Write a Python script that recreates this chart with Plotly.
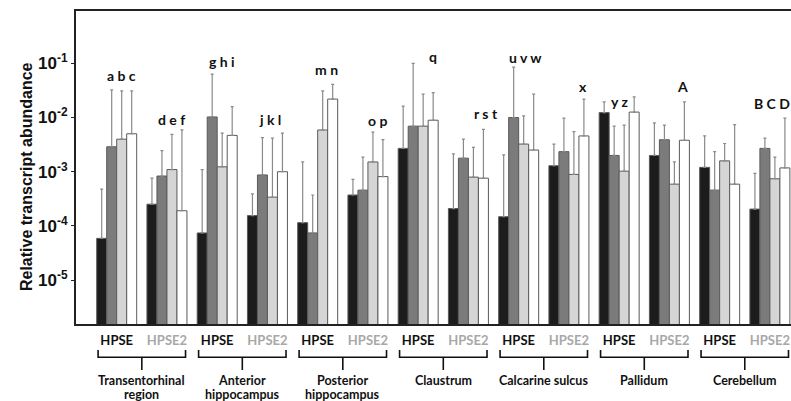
import plotly.graph_objects as go
import numpy as np

# 14 groups: (region, gene) pairs
regions = [["Transentorhinal", "region"], ["Anterior", "hippocampus"], ["Posterior", "hippocampus"],
           ["Claustrum"], ["Calcarine sulcus"], ["Pallidum"], ["Cerebellum"]]
genes = ["HPSE", "HPSE2"] * 7

# log10 of bar heights, four series (black, dark grey, light grey, white)
s1_log = [-4.23, -3.60, -4.13, -3.81, -3.94, -3.43, -2.57, -3.68, -3.83, -2.89, -1.91, -2.70, -2.92, -3.69]
s2_log = [-2.54, -3.08, -1.99, -3.06, -4.13, -3.34, -2.16, -2.75, -2.00, -2.63, -2.70, -2.41, -3.34, -2.57]
s3_log = [-2.40, -2.96, -2.91, -3.47, -2.23, -2.82, -2.16, -3.10, -2.49, -3.05, -2.99, -3.23, -2.80, -3.13]
s4_log = [-2.30, -3.72, -2.33, -3.00, -1.66, -3.09, -2.05, -3.12, -2.60, -2.34, -1.90, -2.42, -3.23, -2.93]

# log10 of error bar tops
e1_log = [-3.32, -3.12, -2.96, -3.41, -2.82, -3.14, -1.79, -2.67, -2.69, -2.49, -1.71, -2.10, -2.34, -3.03]
e2_log = [-1.49, -2.61, -1.20, -2.37, -3.43, -2.73, -1.00, -2.40, -1.07, -2.01, -2.16, -2.14, -2.63, -2.38]
e3_log = [-1.51, -2.31, -2.29, -2.38, -1.51, -2.27, -1.57, -2.55, -1.97, -2.26, -2.14, -2.82, -2.48, -2.73]
e4_log = [-1.51, -2.23, -1.80, -2.29, -1.39, -2.41, -1.54, -2.22, -1.57, -1.66, -1.62, -1.71, -2.13, -2.01]

# significance letters: (group index, text, log10 y, x offset)
letters = [(0, "a b c", -1.22, 0.10), (1, "d e f", -2.03, 0.09), (2, "g h i", -0.97, 0.09),
           (3, "j k l", -2.03, 0.05), (4, "m n", -1.11, 0.18), (5, "o p", -2.05, 0.20),
           (6, "q", -0.88, 0.30), (7, "r s t", -1.92, 0.35), (8, "u v w", -0.89, 0.13),
           (9, "x", -1.42, 0.29), (10, "y z", -1.70, 0.0), (11, "A", -1.43, 0.27),
           (13, "B C D", -1.74, 0.05)]

ytick_vals = [1e-5, 1e-4, 1e-3, 1e-2, 1e-1]
ytick_text = ["10<sup>-5</sup>", "10<sup>-4</sup>", "10<sup>-3</sup>", "10<sup>-2</sup>", "10<sup>-1</sup>"]

colors = ["#1c1c1c", "#7b7b7b", "#d5d5d5", "#ffffff"]
x = list(range(len(genes)))

fig = go.Figure()
for vals, errs, col in zip([s1_log, s2_log, s3_log, s4_log], [e1_log, e2_log, e3_log, e4_log], colors):
    v = 10 ** np.array(vals)
    e = 10 ** np.array(errs) - v
    fig.add_trace(go.Bar(
        x=x, y=v, marker=dict(color=col, line=dict(color="#5a5a5a", width=1)),
        error_y=dict(type="data", array=e, symmetric=False, arrayminus=[0] * len(v),
                     color="#8a8a8a", thickness=1.2, width=1.5),
        showlegend=False))

ticktext = ["<b>HPSE</b>" if g == "HPSE" else "<b><span style='color:#a8a8a8'>HPSE2</span></b>" for g in genes]

fig.update_layout(
    width=791, height=401, margin=dict(l=76, r=0, t=11, b=77),
    paper_bgcolor="white", plot_bgcolor="white",
    barmode="group", bargap=0.204, bargroupgap=0,
    font=dict(family="Lato", color="#111"),
    xaxis=dict(range=[-0.81, 13.42], tickvals=x, ticktext=ticktext, ticks="",
               showline=True, linecolor="#222", linewidth=2, mirror=True, showgrid=False,
               zeroline=False, tickfont=dict(family="Lato", size=13, color="#111"),
               ticklabelstandoff=3),
    yaxis=dict(type="log", range=[-5.81, -0.035], tickvals=ytick_vals, ticktext=ytick_text,
               ticks="outside", ticklen=3, tickcolor="#222", showline=True, linecolor="#222",
               linewidth=2, showgrid=False, zeroline=False,
               tickfont=dict(family="Liberation Sans", size=17, color="#111", weight="bold")),
)

# y-axis title
fig.add_annotation(text="<b>Relative transcript abundance</b>", xref="paper", yref="paper",
                   x=-0.083, y=0.47, textangle=-90, showarrow=False,
                   font=dict(family="Liberation Sans", size=16, color="#111"))

# significance letters
for gi, txt, ly, dx in letters:
    fig.add_annotation(text="<b>" + txt + "</b>", x=gi + dx, y=ly, xref="x", yref="y",
                       showarrow=False, font=dict(family="Lato", size=14, color="#111"))

# braces and region names
yA, yB, yC = -0.083, -0.106, -0.147
line_y = [-0.179, -0.224]
for k, name in enumerate(regions):
    x0, x1, xm = 2 * k - 0.37, 2 * k + 1 + 0.37, 2 * k + 0.5
    fig.add_shape(type="path", xref="x", yref="paper",
                  path=f"M {x0},{yA} L {x0},{yB} L {x1},{yB} L {x1},{yA}",
                  line=dict(color="#111", width=1.6))
    fig.add_shape(type="line", xref="x", yref="paper", x0=xm, x1=xm, y0=yB, y1=yC,
                  line=dict(color="#111", width=1.6))
    for li, part in enumerate(name):
        fig.add_annotation(text="<b>" + part + "</b>", x=xm, y=line_y[li], xref="x", yref="paper",
                           yanchor="middle", showarrow=False,
                           font=dict(family="Lato", size=12.5, color="#111"))

fig.write_html("out.html")
